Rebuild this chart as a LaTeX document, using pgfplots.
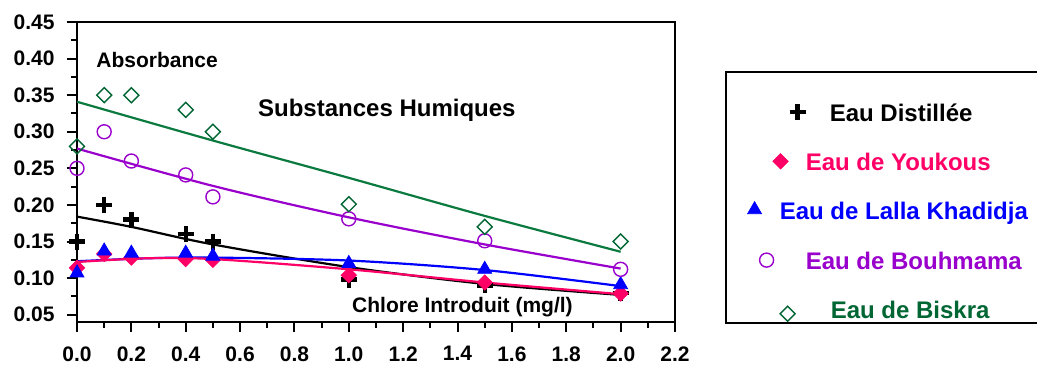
\documentclass[border=0pt]{standalone}
\usepackage{fontspec}
\setmainfont{Liberation Sans}
\usepackage{pgfplots}
\pgfplotsset{compat=1.18}
\definecolor{pinkc}{HTML}{FF0066}
\definecolor{bluec}{HTML}{0000FF}
\definecolor{purplec}{HTML}{9900CC}
\definecolor{greenc}{HTML}{006633}
\definecolor{greenl}{HTML}{0B7A3E}
\pgfplotsset{
  legimg/.style={legend image code/.code={\path (0pt,0pt); \draw[overlay,##1] plot coordinates {(#1)};}},
}
\begin{document}
\begin{tikzpicture}
\begin{axis}[
  at={(0,0)}, anchor=south west,
  scale only axis, width=299pt, height=150pt,
  xmin=0, xmax=2.2, ymin=0.04, ymax=0.45,
  axis line style={line width=1.4pt},
  tick align=outside, tick pos=left,
  major tick length=5pt, minor tick length=3pt,
  every tick/.style={black, line width=1pt},
  xtick={0,0.2,0.4,0.6,0.8,1.0,1.2,1.4,1.6,1.8,2.0,2.2},
  xticklabels={0.0,0.2,0.4,0.6,0.8,1.0,1.2,1.4,1.6,1.8,2.0,2.2},
  minor xtick={0.1,0.3,0.5,0.7,0.9,1.1,1.3,1.5,1.7,1.9,2.1},
  ytick={0.05,0.10,0.15,0.20,0.25,0.30,0.35,0.40,0.45},
  yticklabels={0.05,0.10,0.15,0.20,0.25,0.30,0.35,0.40,0.45},
  minor ytick={0.075,0.125,0.175,0.225,0.275,0.325,0.375,0.425},
  xticklabel style={font=\fontsize{10.5}{12}\selectfont\bfseries, inner sep=0pt, anchor=north},
  yticklabel style={font=\fontsize{10.5}{12}\selectfont\bfseries, inner sep=0pt, anchor=east},
  xticklabel shift=7pt, yticklabel shift=6pt,
  legend cell align=left,
  legend style={draw=none, fill=none, at={(1.1672,0.7313)}, anchor=north west,
    inner sep=0pt, column sep=0pt, row sep=13.2pt,
    nodes={inner sep=0pt, text height=9pt, text depth=2.5pt},
    font=\fontsize{12}{14}\selectfont\bfseries},
]
% fitted curves
\addplot[greenl, line width=1.1pt, smooth, forget plot] coordinates {(0,0.341) (0.5,0.288) (1.0,0.237) (1.5,0.185) (2.0,0.136)};
\addplot[purplec, line width=1.1pt, smooth, forget plot] coordinates {(0,0.277) (0.5,0.226) (1.0,0.183) (1.5,0.146) (2.0,0.113)};
\addplot[black, line width=1.1pt, smooth, forget plot] coordinates {(0,0.184) (0.2,0.170) (0.5,0.146) (1.0,0.115) (1.5,0.092) (2.0,0.077)};
\addplot[bluec, line width=1.1pt, smooth, forget plot] coordinates {(0,0.123) (0.25,0.127) (0.5,0.128) (1.0,0.124) (1.5,0.111) (2.0,0.089)};
\addplot[pinkc, line width=1.1pt, smooth, forget plot] coordinates {(0,0.122) (0.25,0.127) (0.5,0.126) (1.0,0.112) (1.5,0.094) (2.0,0.078)};
% data
\addplot[only marks, black, mark=+, mark size=4pt, line width=2.2pt, legimg={10pt,1.3pt}]
  coordinates {(0,0.150) (0.1,0.200) (0.2,0.180) (0.4,0.160) (0.5,0.150) (1.0,0.098) (1.5,0.090) (2.0,0.080)};
\addlegendentry{\hspace*{25pt}Eau Distillée}
\addplot[only marks, pinkc, mark=square*, mark size=2.7pt, mark options={rotate=45, fill=pinkc}, legimg={1.5pt,1.3pt}]
  coordinates {(0,0.114) (0.1,0.133) (0.2,0.128) (0.4,0.126) (0.5,0.125) (1.0,0.104) (1.5,0.094) (2.0,0.079)};
\addlegendentry{\hspace*{13pt}\textcolor{pinkc}{Eau de Youkous}}
\addplot[only marks, bluec, mark=triangle*, mark size=4pt, mark options={fill=bluec}, legimg={-11.5pt,1.8pt}]
  coordinates {(0,0.107) (0.1,0.137) (0.2,0.134) (0.4,0.134) (0.5,0.130) (1.0,0.120) (1.5,0.112) (2.0,0.091)};
\addlegendentry{\textcolor{bluec}{Eau de Lalla Khadidja}}
\addplot[only marks, purplec, mark=o, mark size=3.5pt, line width=0.7pt, legimg={-5.5pt,1.3pt}]
  coordinates {(0,0.250) (0.1,0.300) (0.2,0.260) (0.4,0.241) (0.5,0.211) (1.0,0.181) (1.5,0.151) (2.0,0.112)};
\addlegendentry{\hspace*{13pt}\textcolor{purplec}{Eau de Bouhmama}}
\addplot[only marks, greenc, mark=square, mark size=2.65pt, line width=0.7pt, mark options={rotate=45}, legimg={5pt,-0.8pt}]
  coordinates {(0,0.280) (0.1,0.350) (0.2,0.350) (0.4,0.330) (0.5,0.300) (1.0,0.201) (1.5,0.170) (2.0,0.150)};
\addlegendentry{\hspace*{25.5pt}\textcolor{greenc}{Eau de Biskra}}
% text labels
\node[anchor=west, inner sep=0pt, font=\fontsize{10.5}{12}\selectfont\bfseries] at (axis cs:0.07,0.398) {Absorbance};
\node[anchor=west, inner sep=0pt, font=\fontsize{12}{14}\selectfont\bfseries] at (axis cs:0.665,0.330) {Substances Humiques};
\node[anchor=west, inner sep=0pt, font=\fontsize{10.5}{12}\selectfont\bfseries] at (axis cs:1.011,0.060) {Chlore Introduit (mg/l)};
\end{axis}
\draw[line width=1.3pt] (324.5pt,-0.5pt) rectangle (520pt,125pt);
\pgfresetboundingbox
\path[use as bounding box] (-38.5pt,-22.5pt) rectangle (480pt,161pt);
\end{tikzpicture}
\end{document}
